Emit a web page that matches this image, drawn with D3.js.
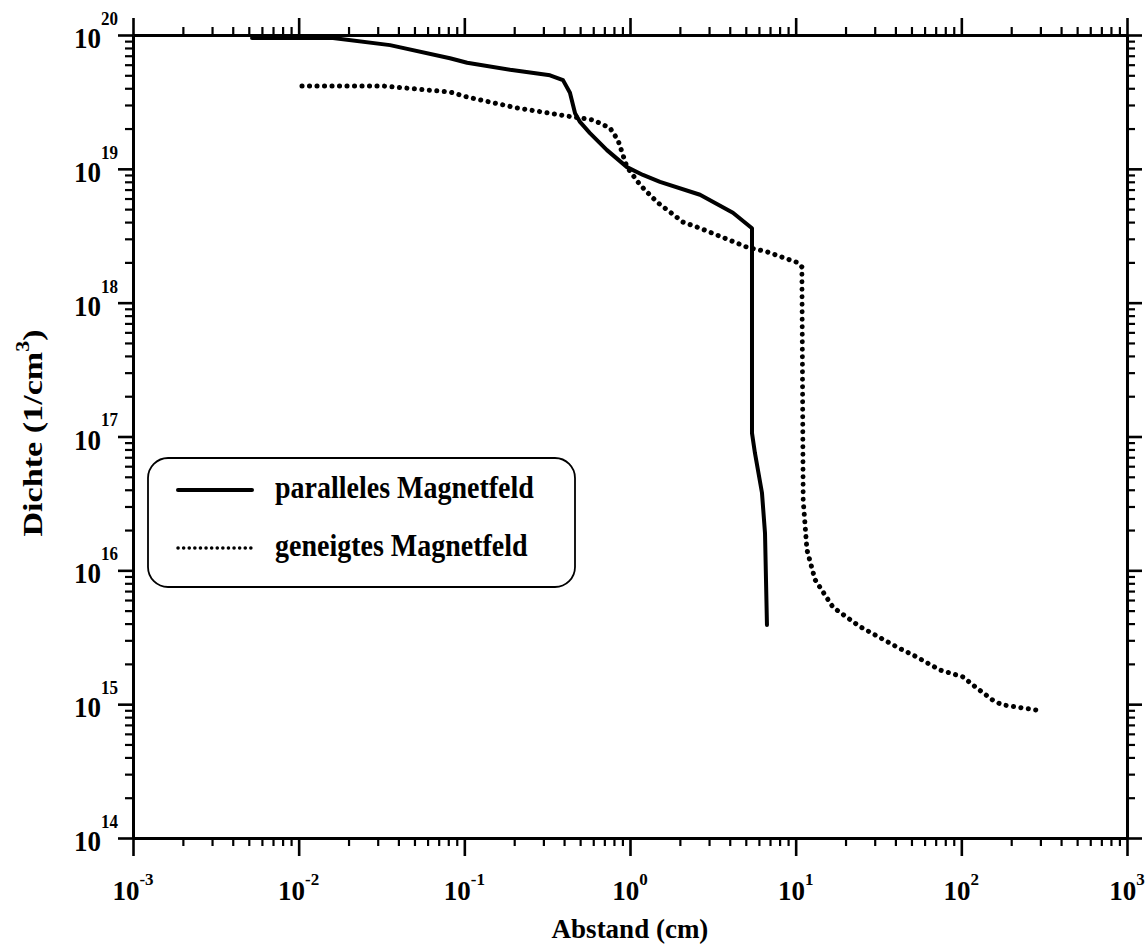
<!DOCTYPE html>
<html><head><meta charset="utf-8">
<script src="https://cdn.jsdelivr.net/npm/d3@7"></script>
<style>
body{margin:0;background:#fff}
svg text{font-family:"Liberation Serif","Times New Roman",serif;font-weight:bold;fill:#000}
</style>
</head><body><svg id="c" width="1148" height="950"></svg>
<script>
// ---- data ----
const xDomain = [1e-3, 1e3];
const yDomain = [1e14, 1e20];
const xTickExps = ["-3", "-2", "-1", "0", "1", "2", "3"];
const yTickExps = ["14", "15", "16", "17", "18", "19", "20"];
const seriesNames = ["paralleles Magnetfeld", "geneigtes Magnetfeld"];
const xTitle = "Abstand (cm)";
const yTitleMain = "Dichte (1/cm";
const yTitleSup = "3";

// parallel magnetic field (solid)
const parallelX = [0.00523, 0.0161, 0.0356, 0.0819, 0.104, 0.189, 0.329, 0.394, 0.434, 0.466, 0.499, 0.573, 0.726, 0.959, 1.197, 1.517, 2.646, 4.18, 5.45, 5.45, 5.45, 5.68, 6.26, 6.53, 6.71];
const parallelY = [9.5e19, 9.5e19, 8.4e19, 6.7e19, 6.2e19, 5.5e19, 5.0e19, 4.6e19, 3.7e19, 2.6e19, 2.24e19, 1.85e19, 1.38e19, 1.03e19, 9.0e18, 8.0e18, 6.4e18, 4.7e18, 3.6e18, 8.0e17, 1.06e17, 7.5e16, 3.8e16, 1.9e16, 3.9e15];

// inclined magnetic field (dotted)
const geneigtX = [0.01047, 0.0323, 0.0819, 0.104, 0.208, 0.417, 0.598, 0.757, 0.846, 0.959, 1.149, 1.455, 2.09, 2.646, 5.08, 6.71, 10.2, 10.9, 11.1, 11.7, 13.1, 16.8, 24.4, 42.6, 51.1, 74.3, 102, 124, 155, 176, 290];
const geneigtY = [4.16e19, 4.16e19, 3.75e19, 3.44e19, 2.85e19, 2.48e19, 2.32e19, 2.02e19, 1.64e19, 1.03e19, 7.6e18, 5.65e18, 4.0e18, 3.6e18, 2.6e18, 2.4e18, 2.0e18, 1.85e18, 3.35e16, 1.42e16, 8.5e15, 5.3e15, 3.8e15, 2.6e15, 2.33e15, 1.8e15, 1.6e15, 1.32e15, 1.07e15, 9.9e14, 9.0e14];

// ---- layout ----
const L = 133, R = 1127, T = 35, B = 838;
const svg = d3.select("#c");
const x = d3.scaleLog().domain(xDomain).range([L, R]);
const y = d3.scaleLog().domain(yDomain).range([B, T]);

const allX = x.ticks();
const allY = y.ticks();
const isMajor = v => Math.abs(Math.log10(v) - Math.round(Math.log10(v))) < 1e-9;
const xMinor = allX.filter(v => !isMajor(v)), xMajor = allX.filter(isMajor);
const yMinor = allY.filter(v => !isMajor(v)), yMajor = allY.filter(isMajor);

function styleAxis(g, w) {
  g.selectAll("text").remove();
  g.selectAll("line").attr("stroke", "#000").attr("stroke-width", w);
  g.select(".domain").attr("stroke", "#000").attr("stroke-width", 3);
}
const axSpecs = [
  [d3.axisBottom, `translate(0,${B})`, x, xMinor, 8, 2.2],
  [d3.axisBottom, `translate(0,${B})`, x, xMajor, 18, 2.6],
  [d3.axisTop, `translate(0,${T})`, x, xMinor, 8, 2.2],
  [d3.axisTop, `translate(0,${T})`, x, xMajor, 17, 2.6],
  [d3.axisLeft, `translate(${L},0)`, y, yMinor, 8, 2.2],
  [d3.axisLeft, `translate(${L},0)`, y, yMajor, 15, 2.6],
  [d3.axisRight, `translate(${R},0)`, y, yMinor, 8, 2.2],
  [d3.axisRight, `translate(${R},0)`, y, yMajor, 15, 2.6]
];
axSpecs.forEach(([fn, tr, sc, vals, size, w]) => {
  svg.append("g").attr("transform", tr)
    .call(fn(sc).tickValues(vals).tickSize(size).tickSizeOuter(0).tickFormat(""))
    .call(g => styleAxis(g, w));
});

// x tick labels
svg.append("g").selectAll("text").data(xTickExps).join("text")
  .attr("x", d => x(Math.pow(10, +d)))
  .attr("y", 900)
  .attr("text-anchor", "middle")
  .style("font-size", "27px")
  .each(function(d) {
    const t = d3.select(this);
    t.append("tspan").text("10");
    t.append("tspan").attr("dy", -15).style("font-size", "17px").text(d);
  });

// y tick labels
svg.append("g").selectAll("text").data(yTickExps).join("text")
  .attr("transform", d => `translate(118,${y(Math.pow(10, +d)) + 13}) scale(1,1.1)`)
  .attr("text-anchor", "end")
  .style("font-size", "27px")
  .each(function(d) {
    const t = d3.select(this);
    t.append("tspan").text("10");
    t.append("tspan").attr("dy", -21).style("font-size", "17px").text(d);
  });

// axis titles
svg.append("text").attr("x", (L + R) / 2).attr("y", 938)
  .attr("text-anchor", "middle").style("font-size", "27px").text(xTitle);
const yt = svg.append("text")
  .attr("transform", `translate(42,433) rotate(-90) scale(1.22,1)`)
  .attr("text-anchor", "middle").style("font-size", "28px");
yt.append("tspan").text(yTitleMain);
yt.append("tspan").attr("dy", -13).style("font-size", "18px").text(yTitleSup);
yt.append("tspan").attr("dy", 13).text(")");

// lines
const lineLin = d3.line().x(d => x(d[0])).y(d => y(d[1]));
const parData = parallelX.map((v, i) => [v, parallelY[i]]);
const genData = geneigtX.map((v, i) => [v, geneigtY[i]]);

svg.append("path").datum(parData).attr("d", lineLin)
  .attr("fill", "none").attr("stroke", "#000").attr("stroke-width", 4)
  .attr("stroke-linejoin", "round").attr("stroke-linecap", "round");
svg.append("path").datum(genData).attr("d", lineLin)
  .attr("fill", "none").attr("stroke", "#000").attr("stroke-width", 5)
  .attr("stroke-linejoin", "round").attr("stroke-linecap", "round")
  .attr("stroke-dasharray", "0.1 7.4");

// legend
const lg = svg.append("g");
lg.append("rect").attr("x", 148).attr("y", 458).attr("width", 427).attr("height", 129)
  .attr("rx", 20).attr("ry", 20).attr("fill", "#fff").attr("stroke", "#000").attr("stroke-width", 1.8);
const legRows = [
  {name: seriesNames[0], dash: null, w: 4},
  {name: seriesNames[1], dash: "0.1 5.5", w: 3.5}
];
legRows.forEach((r, i) => {
  const yy = 490 + i * 58;
  const p = lg.append("line").attr("x1", 178).attr("x2", 252).attr("y1", yy).attr("y2", yy)
    .attr("stroke", "#000").attr("stroke-width", r.w).attr("stroke-linecap", "round");
  if (r.dash) p.attr("stroke-dasharray", r.dash);
  lg.append("text").attr("transform", `translate(275,${yy + 8}) scale(1,1.1)`)
    .style("font-size", "28px").text(r.name);
});
</script>
</body></html>
